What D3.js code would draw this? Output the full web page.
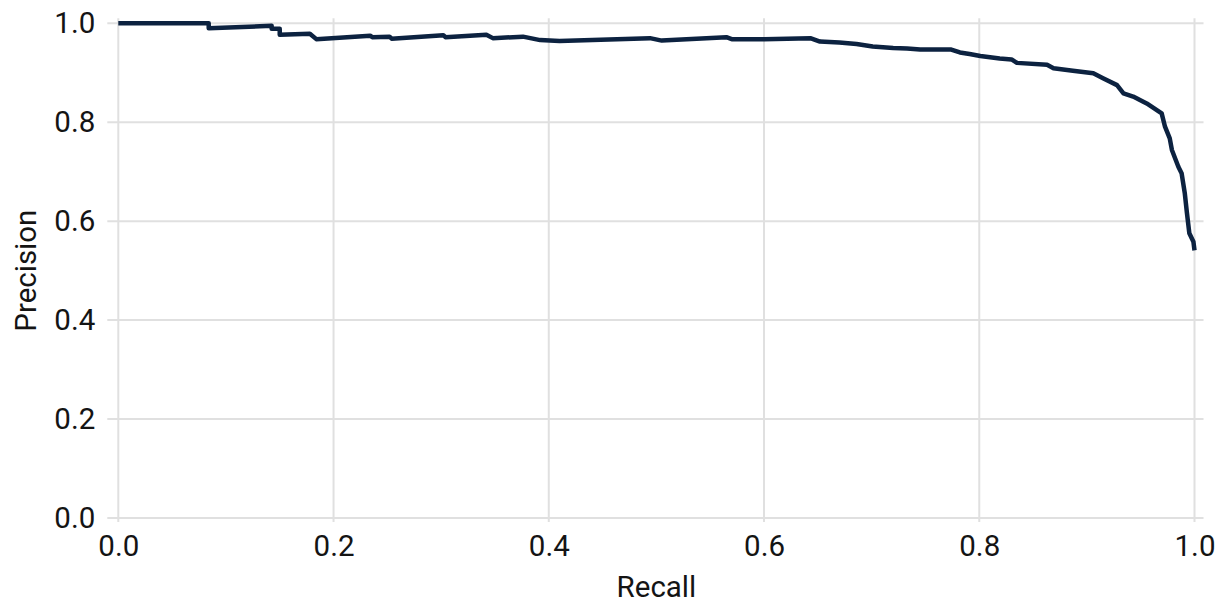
<!DOCTYPE html>
<html>
<head>
<meta charset="utf-8">
<script src="https://cdn.jsdelivr.net/npm/d3@7"></script>
<style>
  html, body { margin: 0; padding: 0; background: #ffffff; }
  svg { display: block; font-family: Roboto, "Noto Sans", sans-serif; }
</style>
</head>
<body>
<svg id="chart" width="1225" height="603"></svg>
<script>
// Precision–recall curve points (recall, precision)
const recall = [
  0.000, 0.084, 0.084, 0.1425, 0.1425, 0.150, 0.150, 0.178, 0.184, 0.234,
  0.236, 0.252, 0.254, 0.302, 0.304, 0.342, 0.348, 0.376, 0.392, 0.410,
  0.494, 0.505, 0.565, 0.570, 0.600, 0.643, 0.652, 0.670, 0.686, 0.701,
  0.720, 0.733, 0.745, 0.774, 0.782, 0.791, 0.801, 0.819, 0.830, 0.835,
  0.863, 0.869, 0.887, 0.906, 0.915, 0.928, 0.934, 0.943, 0.9556, 0.9695,
  0.9726, 0.977, 0.979, 0.985, 0.988, 0.991, 0.993, 0.9952, 0.999, 1.000
];
const precision = [
  1.000, 1.000, 0.990, 0.995, 0.989, 0.989, 0.977, 0.979, 0.968, 0.975,
  0.972, 0.973, 0.969, 0.976, 0.972, 0.977, 0.970, 0.973, 0.966, 0.964,
  0.970, 0.965, 0.972, 0.968, 0.968, 0.970, 0.963, 0.961, 0.958, 0.953,
  0.950, 0.949, 0.947, 0.947, 0.941, 0.938, 0.934, 0.929, 0.927, 0.920,
  0.916, 0.909, 0.904, 0.899, 0.889, 0.875, 0.8585, 0.852, 0.838, 0.818,
  0.791, 0.7675, 0.744, 0.710, 0.697, 0.656, 0.616, 0.5755, 0.5585, 0.541
];
const xTicks = [0.0, 0.2, 0.4, 0.6, 0.8, 1.0];
const yTicks = [0.0, 0.2, 0.4, 0.6, 0.8, 1.0];
const xTitle = "Recall";
const yTitle = "Precision";

const svg = d3.select("#chart");
const x = d3.scaleLinear().domain([0, 1]).range([118.3, 1194.5]);
const y = d3.scaleLinear().domain([0, 1]).range([518, 23.3]);

const gridColor = "#e0e0e0";
const textColor = "#141414";
const fontSize = 29.5;

// gridlines, slightly overhanging the data range
const grid = svg.append("g");
grid.selectAll("line.h").data(yTicks).join("line")
  .attr("x1", x(0) - 11).attr("x2", x(1) + 9)
  .attr("y1", d => y(d)).attr("y2", d => y(d))
  .attr("stroke", gridColor).attr("stroke-width", 2);
grid.selectAll("line.v").data(xTicks).join("line")
  .attr("x1", d => x(d)).attr("x2", d => x(d))
  .attr("y1", y(1) - 5).attr("y2", y(0) + 4)
  .attr("stroke", gridColor).attr("stroke-width", 2);

// axes (labels only)
const fmt = d3.format(".1f");
const xAxis = svg.append("g")
  .attr("transform", `translate(0,${y(0) + 7})`)
  .call(d3.axisBottom(x).tickValues(xTicks).tickFormat(fmt).tickSize(0).tickPadding(10));
const yAxis = svg.append("g")
  .attr("transform", `translate(${x(0) - 20},0)`)
  .call(d3.axisLeft(y).tickValues(yTicks).tickFormat(fmt).tickSize(0).tickPadding(3));
[xAxis, yAxis].forEach(g => {
  g.select(".domain").remove();
  g.selectAll("text")
    .attr("fill", textColor)
    .style("font-family", "Roboto, sans-serif")
    .style("font-size", fontSize + "px");
});

// axis titles
svg.append("text")
  .attr("x", (x(0) + x(1)) / 2).attr("y", 597)
  .attr("text-anchor", "middle")
  .attr("fill", textColor)
  .style("font-size", fontSize + "px")
  .text(xTitle);
svg.append("text")
  .attr("transform", `translate(36,${(y(0) + y(1)) / 2}) rotate(-90)`)
  .attr("text-anchor", "middle")
  .attr("fill", textColor)
  .style("font-size", fontSize + "px")
  .text(yTitle);

// curve
const pts = recall.map((r, i) => [r, precision[i]]);
svg.append("path")
  .datum(pts)
  .attr("fill", "none")
  .attr("stroke", "#0c2240")
  .attr("stroke-width", 4.5)
  .attr("stroke-linejoin", "round")
  .attr("d", d3.line().x(d => x(d[0])).y(d => y(d[1])));
</script>
</body>
</html>
